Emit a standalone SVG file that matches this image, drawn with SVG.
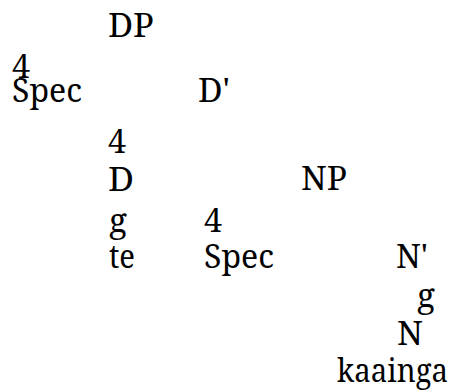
<svg xmlns="http://www.w3.org/2000/svg" width="456" height="392" viewBox="0 0 456 392">
<style>
text{font-family:'Noto Serif','Liberation Serif','Times New Roman',serif;font-size:33.5px;fill:#000}
</style>
<rect width="456" height="392" fill="#fff"/>
<g id="DP"><text x="108" y="37" textLength="46" lengthAdjust="spacingAndGlyphs">DP</text></g>
<g id="branch1"><text x="12" y="78" textLength="18" lengthAdjust="spacingAndGlyphs">4</text></g>
<g id="Spec1"><text x="12" y="102" textLength="70" lengthAdjust="spacingAndGlyphs">Spec</text></g>
<g id="Dbar"><text x="198" y="102" textLength="32" lengthAdjust="spacingAndGlyphs">D'</text></g>
<g id="branch2"><text x="108" y="153" textLength="18" lengthAdjust="spacingAndGlyphs">4</text></g>
<g id="D"><text x="108" y="191" textLength="26" lengthAdjust="spacingAndGlyphs">D</text></g>
<g id="NP"><text x="301" y="190" textLength="46" lengthAdjust="spacingAndGlyphs">NP</text></g>
<g id="branch3"><text x="109" y="232" textLength="18" lengthAdjust="spacingAndGlyphs">g</text></g>
<g id="branch4"><text x="204" y="232" textLength="18" lengthAdjust="spacingAndGlyphs">4</text></g>
<g id="te"><text x="109" y="268" textLength="26" lengthAdjust="spacingAndGlyphs">te</text></g>
<g id="Spec2"><text x="204" y="268" textLength="70" lengthAdjust="spacingAndGlyphs">Spec</text></g>
<g id="Nbar"><text x="396" y="268" textLength="32" lengthAdjust="spacingAndGlyphs">N'</text></g>
<g id="branch5"><text x="417" y="307" textLength="18" lengthAdjust="spacingAndGlyphs">g</text></g>
<g id="N"><text x="397" y="345" textLength="26" lengthAdjust="spacingAndGlyphs">N</text></g>
<g id="kaainga"><text x="337" y="382" textLength="111" lengthAdjust="spacingAndGlyphs">kaainga</text></g>
</svg>
